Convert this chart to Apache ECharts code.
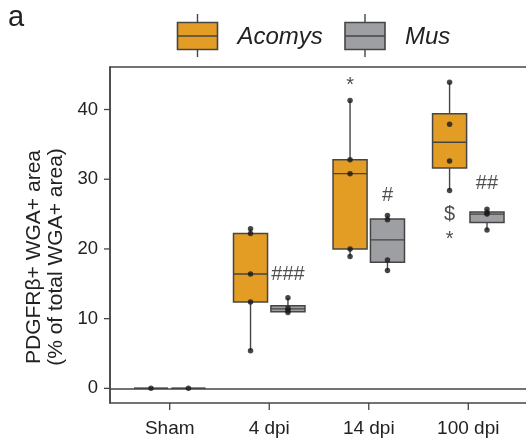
<!DOCTYPE html>
<html>
<head>
<meta charset="utf-8">
<script src="https://cdn.jsdelivr.net/npm/echarts@6/dist/echarts.min.js"></script>
<style>
  html, body { margin: 0; padding: 0; background: #fff; }
  #chart { width: 526px; height: 443px; }
</style>
</head>
<body>
<div id="chart"></div>
<script>
    // categories and ticks
    var groups = ['Sham', '4 dpi', '14 dpi', '100 dpi']
    var yTicks = [0, 10, 20, 30, 40]

    // box stats per group: [min, q1, median, q3, max]
    var acomysBox = [[0, 0, 0, 0, 0], [5.4, 12.4, 16.4, 22.2, 22.9], [18.9, 20.0, 30.8, 32.8, 41.3], [28.4, 31.6, 35.3, 39.4, 43.9]]
    var musBox = [[0, 0, 0, 0, 0], [10.9, 11.0, 11.4, 11.85, 13.0], [16.9, 18.1, 21.3, 24.3, 24.8], [22.7, 23.8, 25.0, 25.3, 25.7]]

    // individual animals
    var acomysPts = [[0], [5.4, 12.4, 16.4, 22.2, 22.9], [18.9, 20.0, 30.8, 32.8, 41.3], [28.4, 32.6, 37.9, 43.9]]
    var musPts = [[0], [10.9, 11.2, 11.5, 13.0], [16.9, 18.4, 24.2, 24.8], [22.7, 25.0, 25.2, 25.7]]

    // significance marks
    var annotGroup = [2, 3, 3, 4, 4, 4]
    var annotSide = [1, -1, 1, -1, -1, 1]   // -1 Acomys, 1 Mus
    var annotY = [16.4, 43.4, 27.7, 25.0, 21.3, 29.4]
    var annotText = ['###', '*', '#', '$', '*', '##']

    var X_MIN = 0.4, X_MAX = 4.6
    var Y_MIN = -2.1, Y_MAX = 46.1
    var OFF = 0.188      // box offset from group centre
    var HALF = 0.171     // half box width
    var ORANGE = '#E39D25'
    var GREY = '#9E9FA3'
    var EDGE = '#454545'
    var FONT = 'Liberation Sans, Arial'

    function boxRender(color) {
        return function (params, api) {
            var x = api.value(0)
            var lo = api.coord([x - HALF, api.value(2)])
            var hi = api.coord([x + HALF, api.value(4)])
            var md = api.coord([x, api.value(3)])
            var wMin = api.coord([x, api.value(1)])
            var wMax = api.coord([x, api.value(5)])
            var lineStyle = {stroke: EDGE, lineWidth: 1.4}
            return {
                type: 'group',
                children: [
                    {type: 'line', shape: {x1: md[0], y1: wMin[1], x2: md[0], y2: lo[1]}, style: lineStyle},
                    {type: 'line', shape: {x1: md[0], y1: hi[1], x2: md[0], y2: wMax[1]}, style: lineStyle},
                    {type: 'rect', shape: {x: lo[0], y: hi[1], width: hi[0] - lo[0], height: lo[1] - hi[1]},
                        style: {fill: color, stroke: EDGE, lineWidth: 1.5}},
                    {type: 'line', shape: {x1: lo[0], y1: md[1], x2: hi[0], y2: md[1]}, style: {stroke: EDGE, lineWidth: 1.4}}
                ]
            }
        }
    }

    function boxData(stats, side) {
        return stats.map(function (b, i) { return [i + 1 + side * OFF].concat(b) })
    }

    function ptData(pts, side) {
        var out = []
        pts.forEach(function (arr, i) {
            arr.forEach(function (v) { out.push([i + 1 + side * OFF, v]) })
        })
        return out
    }

    var annotData = annotText.map(function (t, i) {
        return {name: t, value: [annotGroup[i] + annotSide[i] * OFF, annotY[i]]}
    })

    // tick marks drawn outside the frame
    function yTickRender(params, api) {
        var p = api.coord([X_MIN, api.value(1)])
        return {type: 'line', shape: {x1: p[0] - 6, y1: p[1], x2: p[0], y2: p[1]}, style: {stroke: EDGE, lineWidth: 1.3}}
    }
    function xTickRender(params, api) {
        var p = api.coord([api.value(0), Y_MIN])
        return {type: 'line', shape: {x1: p[0], y1: p[1], x2: p[0], y2: p[1] + 7}, style: {stroke: EDGE, lineWidth: 1.3}}
    }

    // legend drawn by hand: box with whiskers + italic name
    function legendItem(x, color, name) {
        return [
            {type: 'line', shape: {x1: x + 20, y1: 14, x2: x + 20, y2: 57}, style: {stroke: EDGE, lineWidth: 1.4}},
            {type: 'rect', shape: {x: x, y: 22.5, width: 40, height: 27}, style: {fill: color, stroke: EDGE, lineWidth: 1.6}},
            {type: 'line', shape: {x1: x, y1: 36, x2: x + 40, y2: 36}, style: {stroke: EDGE, lineWidth: 1.4}},
            {type: 'text', x: x + 60, y: 37, style: {text: name, fontSize: 24, fontStyle: 'italic',
                fontFamily: FONT, fill: '#222', verticalAlign: 'middle'}}
        ]
    }

    var chart = echarts.init(document.getElementById('chart'))
    chart.setOption({
        animation: false,
        textStyle: {fontFamily: FONT},
        grid: {
            left: 110, top: 67, right: -2, bottom: 40,
            outerBoundsMode: 'none',
            show: true, borderColor: EDGE, borderWidth: 1.5
        },
        graphic: [
            {type: 'text', left: 8, top: 3, style: {text: 'a', fontSize: 29, fill: '#222', fontFamily: FONT}},
            {type: 'text', x: 45, y: 257, rotation: Math.PI / 2,
                style: {text: 'PDGFRβ+ WGA+ area\n(% of total WGA+ area)', fontSize: 21, lineHeight: 22.5,
                    align: 'center', verticalAlign: 'middle', fill: '#222', fontFamily: FONT}}
        ].concat(legendItem(177.5, ORANGE, 'Acomys'), legendItem(345, GREY, 'Mus')),
        xAxis: {
            type: 'value',
            min: X_MIN, max: X_MAX,
            splitLine: {show: false},
            axisLine: {show: true, lineStyle: {color: EDGE, width: 1.5}},
            axisTick: {show: false},
            axisLabel: {
                customValues: [1, 2, 3, 4],
                fontSize: 19, color: '#222', margin: 16,
                formatter: function (v) { return groups[Math.round(v) - 1] }
            }
        },
        yAxis: {
            type: 'value',
            min: Y_MIN, max: Y_MAX,
            splitLine: {show: false},
            axisLine: {show: true, lineStyle: {color: EDGE, width: 1.5}},
            axisTick: {show: false},
            axisLabel: {customValues: yTicks, fontSize: 18.5, color: '#222', margin: 12}
        },
        series: [
            {type: 'custom', renderItem: yTickRender, data: yTicks.map(function (v) { return [X_MIN, v] }),
                encode: {x: 0, y: 1}, clip: false, silent: true},
            {type: 'custom', renderItem: xTickRender, data: groups.map(function (g, i) { return [i + 1, Y_MIN] }),
                encode: {x: 0, y: 1}, clip: false, silent: true},
            {type: 'custom', name: 'Acomys', renderItem: boxRender(ORANGE), data: boxData(acomysBox, -1),
                encode: {x: 0, y: [1, 2, 3, 4, 5]}, z: 2},
            {type: 'custom', name: 'Mus', renderItem: boxRender(GREY), data: boxData(musBox, 1),
                encode: {x: 0, y: [1, 2, 3, 4, 5]}, z: 2},
            {type: 'scatter', data: ptData(acomysPts, -1), symbolSize: 5.5, itemStyle: {color: '#1a1a1a'}, z: 3},
            {type: 'scatter', data: ptData(musPts, 1), symbolSize: 5.5, itemStyle: {color: '#1a1a1a'}, z: 3},
            {type: 'scatter', data: annotData, symbolSize: 0, z: 4,
                label: {show: true, position: 'inside', formatter: '{b}', fontSize: 20, color: '#222'}}
        ]
    })
</script>
</body>
</html>
